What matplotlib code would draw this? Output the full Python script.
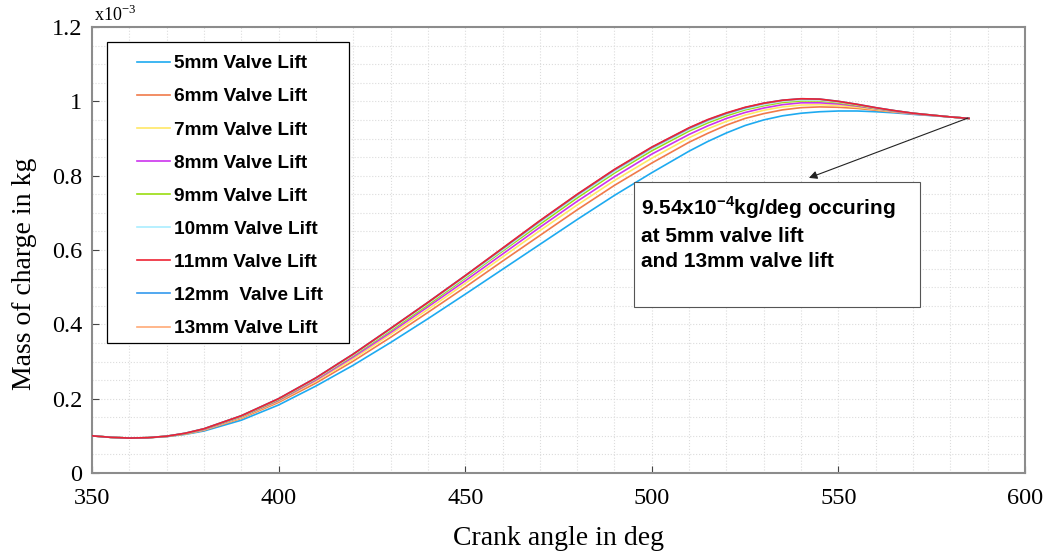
import matplotlib
matplotlib.use('Agg')
import matplotlib.pyplot as plt
from matplotlib.patches import Rectangle
from matplotlib.ticker import MultipleLocator

# crank angle (deg) and mass of charge (x10^-3 kg) for each valve lift
crank = [350, 355, 360, 365, 370, 375, 380, 390, 400, 410, 420, 430, 440, 450, 460, 470,
         480, 490, 500, 510, 515, 520, 525, 530, 535, 540, 545, 550, 555, 560, 565, 570,
         580, 585]

lift_5 = [0.100, 0.096, 0.094, 0.095, 0.098, 0.104, 0.113, 0.142, 0.183, 0.234, 0.290, 0.351,
          0.415, 0.481, 0.548, 0.615, 0.682, 0.747, 0.808, 0.866, 0.892, 0.915, 0.935, 0.950,
          0.961, 0.968, 0.972, 0.974, 0.974, 0.972, 0.969, 0.965, 0.958, 0.954]
lift_6 = [0.100, 0.096, 0.094, 0.095, 0.098, 0.105, 0.115, 0.147, 0.190, 0.242, 0.301, 0.365,
          0.432, 0.500, 0.570, 0.639, 0.708, 0.774, 0.834, 0.890, 0.914, 0.936, 0.954, 0.967,
          0.977, 0.983, 0.985, 0.984, 0.981, 0.976, 0.971, 0.966, 0.958, 0.954]
lift_7 = [0.100, 0.096, 0.094, 0.095, 0.099, 0.105, 0.116, 0.149, 0.193, 0.247, 0.307, 0.373,
          0.440, 0.510, 0.581, 0.652, 0.721, 0.787, 0.847, 0.902, 0.926, 0.946, 0.963, 0.976,
          0.985, 0.990, 0.991, 0.989, 0.984, 0.978, 0.972, 0.967, 0.958, 0.954]
lift_8 = [0.100, 0.096, 0.094, 0.095, 0.099, 0.106, 0.117, 0.151, 0.195, 0.250, 0.312, 0.378,
          0.447, 0.517, 0.589, 0.661, 0.731, 0.797, 0.858, 0.911, 0.934, 0.954, 0.970, 0.982,
          0.991, 0.996, 0.996, 0.993, 0.987, 0.980, 0.973, 0.967, 0.958, 0.954]
lift_9 = [0.100, 0.096, 0.094, 0.095, 0.099, 0.106, 0.118, 0.152, 0.197, 0.253, 0.316, 0.383,
          0.452, 0.524, 0.597, 0.669, 0.740, 0.807, 0.867, 0.920, 0.942, 0.961, 0.977, 0.988,
          0.997, 1.001, 1.001, 0.996, 0.989, 0.981, 0.974, 0.968, 0.958, 0.954]
lift_10 = [0.100, 0.096, 0.094, 0.095, 0.099, 0.107, 0.119, 0.153, 0.199, 0.254, 0.318, 0.386,
           0.456, 0.527, 0.600, 0.674, 0.745, 0.811, 0.872, 0.924, 0.946, 0.965, 0.980, 0.991,
           1.000, 1.004, 1.003, 0.998, 0.991, 0.982, 0.975, 0.968, 0.958, 0.954]
lift_11 = [0.100, 0.096, 0.094, 0.095, 0.099, 0.107, 0.119, 0.154, 0.200, 0.256, 0.320, 0.389,
           0.459, 0.531, 0.605, 0.679, 0.750, 0.817, 0.877, 0.929, 0.951, 0.969, 0.984, 0.995,
           1.003, 1.007, 1.006, 1.000, 0.992, 0.983, 0.975, 0.968, 0.958, 0.954]
lift_12 = [0.100, 0.096, 0.094, 0.095, 0.099, 0.107, 0.119, 0.154, 0.200, 0.256, 0.320, 0.389,
           0.459, 0.531, 0.604, 0.678, 0.749, 0.816, 0.876, 0.928, 0.950, 0.968, 0.983, 0.995,
           1.003, 1.007, 1.006, 1.000, 0.992, 0.983, 0.975, 0.968, 0.958, 0.954]
lift_13 = [0.100, 0.096, 0.094, 0.095, 0.099, 0.107, 0.119, 0.154, 0.199, 0.255, 0.319, 0.388,
           0.458, 0.530, 0.603, 0.677, 0.748, 0.815, 0.875, 0.927, 0.949, 0.967, 0.983, 0.994,
           1.002, 1.006, 1.005, 0.999, 0.991, 0.982, 0.975, 0.968, 0.958, 0.954]

labels = ['5mm Valve Lift', '6mm Valve Lift', '7mm Valve Lift', '8mm Valve Lift',
          '9mm Valve Lift', '10mm Valve Lift', '11mm Valve Lift', '12mm  Valve Lift',
          '13mm Valve Lift']
series = [lift_5, lift_6, lift_7, lift_8, lift_9, lift_10, lift_11, lift_12, lift_13]
colors = ['#1eaaf0', '#f07a4a', '#ffe866', '#cc33ee', '#99dd11',
          '#aaeeff', '#ee2233', '#3399ee', '#ffaa77']
zorders = [3, 3, 3, 3, 3, 3, 6, 5, 4]

serif = 'Liberation Serif'
W, H = 1049, 552

fig = plt.figure(figsize=(W / 100, H / 100), dpi=100)
ax = fig.add_axes([92 / W, 1 - 473 / H, (1025 - 92) / W, (473 - 27) / H])

for y, c, lab, z in zip(series, colors, labels, zorders):
    ax.plot(crank, y, color=c, lw=1.2, label=lab, zorder=z)

ax.set_xlim(350, 600)
ax.set_ylim(0, 1.2)
ax.xaxis.set_major_locator(MultipleLocator(50))
ax.xaxis.set_minor_locator(MultipleLocator(10))
ax.yaxis.set_minor_locator(MultipleLocator(0.05))
ax.set_yticks([0, 0.2, 0.4, 0.6, 0.8, 1.0, 1.2])
ax.set_yticklabels(['0', '0.2', '0.4', '0.6', '0.8', '1', '1.2'])

ax.grid(which='both', color='#dcdcdc', linestyle=':', lw=0.8)
ax.tick_params(which='major', direction='in', length=5, width=0.8, color='#444444',
               labelsize=17.5)
ax.tick_params(axis='x', which='major', pad=11)
ax.tick_params(axis='y', which='major', pad=7)
ax.tick_params(which='minor', length=0)
for lbl in ax.get_xticklabels() + ax.get_yticklabels():
    lbl.set_fontfamily(serif)
for sp in ax.spines.values():
    sp.set_color('#8c8c8c')
    sp.set_linewidth(1.5)

ax.set_xlabel('Crank angle in deg', fontfamily=serif, fontsize=20, labelpad=12)
ax.set_ylabel('Mass of charge in kg', fontfamily=serif, fontsize=20)
ax.yaxis.set_label_coords(-0.059, 0.446)
ax.text(0.002, 1.004, r'x10$^{\mathregular{-3}}$', transform=ax.transAxes,
        fontfamily=serif, fontsize=13, va='bottom', ha='left')

# legend: frameless entries + separate box for the wide left/right padding
leg = ax.legend(loc='upper left', bbox_to_anchor=(137 / W, 1 - 55 / H),
                bbox_transform=fig.transFigure, frameon=False,
                handlelength=1.75, handletextpad=0.2, labelspacing=0.83,
                borderpad=0, borderaxespad=0,
                prop={'family': 'Liberation Sans', 'weight': 'bold', 'size': 13.7})
leg.set_zorder(10)
ax.add_patch(Rectangle((107 / W, 1 - 343 / H), 242 / W, 301 / H, transform=fig.transFigure,
                       facecolor='white', edgecolor='black', lw=0.9, clip_on=False, zorder=9))

# annotation box with arrow to end point
ax.add_patch(Rectangle((495.2, 0.447), 76.7, 0.336, facecolor='white',
                       edgecolor='#555555', lw=0.8, zorder=7))
ax.text(497.2, 0.750, '9.54x10$^{\\mathregular{-4}}$kg/deg occuring\nat 5mm valve lift\nand 13mm valve lift',
        fontfamily='Liberation Sans', fontweight='bold', fontsize=15,
        va='top', ha='left', linespacing=1.42, zorder=8)
ax.annotate('', xy=(542.1, 0.794), xytext=(584.7, 0.955),
            arrowprops=dict(arrowstyle='-|>', color='#222222', lw=0.8,
                            mutation_scale=12, shrinkA=0, shrinkB=0), zorder=8)

fig.savefig('out.png', dpi=100)
